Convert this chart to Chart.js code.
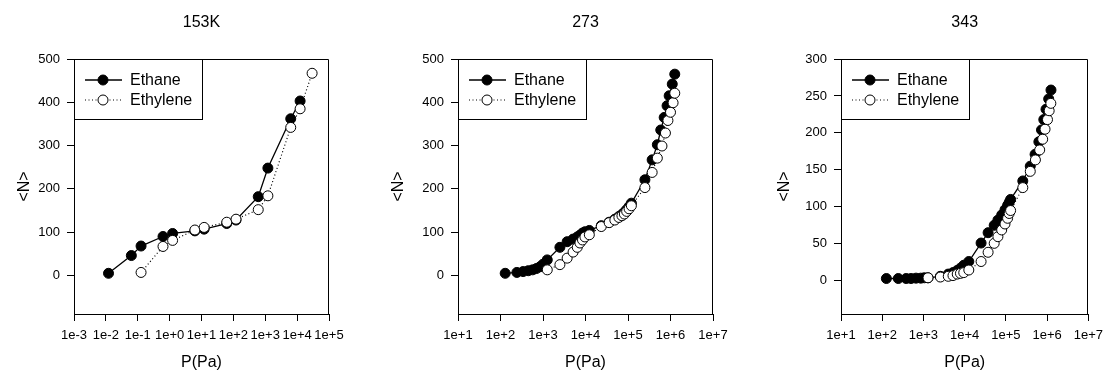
<!DOCTYPE html>
<html>
<head>
<meta charset="utf-8">
<script src="https://cdn.jsdelivr.net/npm/chart.js@4"></script>
<style>
html,body{margin:0;padding:0;background:#fff;}
body{width:1110px;height:372px;position:relative;overflow:hidden;}
.panel{position:absolute;top:0;width:370px;height:372px;}
</style>
</head>
<body>
<div class="panel" style="left:0px"><canvas id="c1"></canvas></div>
<div class="panel" style="left:370px"><canvas id="c2"></canvas></div>
<div class="panel" style="left:740px"><canvas id="c3"></canvas></div>
<script>
// ---------- DATA ----------
const panelTitles = ['153K', '273', '343'];
const seriesNames = ['Ethane', 'Ethylene'];

// 153K
const t153_ethane_P = [0.0121, 0.063, 0.127, 0.62, 1.24, 6.2, 12.1, 62, 121, 603, 1210, 6300, 12400];
const t153_ethane_N = [5, 46, 68, 90, 97, 103, 107, 120, 128, 182, 248, 362, 403];
const t153_ethylene_P = [0.127, 0.62, 1.24, 6.2, 12.1, 62, 121, 603, 1210, 6300, 12400, 29500];
const t153_ethylene_N = [7, 67, 81, 105, 111, 123, 130, 152, 184, 342, 385, 467];

// 273
const t273_ethane_P = [129, 243, 340, 450, 570, 700, 850, 1000, 1260, 2500, 3700, 5100, 6400, 7400, 8500, 9700, 12300,
  23500, 36000, 49000, 61000, 72000, 82000, 93000, 106000, 120000,
  250000, 370000, 490000, 590000, 710000, 830000, 930000, 1100000, 1260000];
const t273_ethane_N = [5, 7, 9, 11, 13, 16, 20, 26, 36, 65, 78, 84, 89, 93, 98, 101, 104,
  115, 123, 130, 136, 141, 146, 152, 159, 167,
  221, 267, 302, 336, 365, 392, 415, 442, 465];
const t273_ethylene_P = [1260, 2500, 3700, 5100, 6400, 7400, 8500, 9700, 12300,
  23500, 36000, 49000, 61000, 72000, 82000, 93000, 106000, 120000,
  250000, 370000, 490000, 630000, 760000, 870000, 1000000, 1150000, 1260000];
const t273_ethylene_N = [13, 25, 40, 54, 65, 75, 82, 89, 94,
  113, 122, 128, 134, 138, 142, 148, 154, 161,
  203, 238, 271, 299, 329, 358, 377, 399, 421];

// 343
const t343_ethane_P = [126, 245, 380, 500, 660, 860, 1050, 1290, 2570, 4000, 5200, 6600, 7900, 9500, 12600,
  25000, 37000, 52000, 64000, 79000, 95000, 110000, 120000, 130000,
  257000, 390000, 510000, 630000, 730000, 830000, 940000, 1090000, 1240000];
const t343_ethane_N = [3, 3, 3, 3, 3.5, 3.5, 4, 4, 6, 9, 11, 14, 17, 21, 26,
  51, 65, 75, 82, 89, 96, 102, 106, 110,
  135, 155, 171, 188, 204, 218, 232, 246, 258];
const t343_ethylene_P = [1290, 2570, 4000, 5200, 6600, 7900, 9500, 12600,
  25000, 37000, 52000, 64000, 79000, 95000, 110000, 120000, 130000,
  257000, 390000, 520000, 660000, 780000, 890000, 1020000, 1120000, 1230000];
const t343_ethylene_N = [4, 5, 6, 7, 9, 10, 11, 14.5,
  26, 38.5, 50.6, 59.6, 68.7, 76.8, 84.5, 91, 95,
  126, 148, 163.5, 177, 191.5, 205, 218, 230, 240];

// Axis ticks
const x153_tickValues = [1e-3, 1e-2, 1e-1, 1e0, 1e1, 1e2, 1e3, 1e4, 1e5];
const x153_tickLabels = ['1e-3', '1e-2', '1e-1', '1e+0', '1e+1', '1e+2', '1e+3', '1e+4', '1e+5'];
const xHigh_tickValues = [1e1, 1e2, 1e3, 1e4, 1e5, 1e6, 1e7];
const xHigh_tickLabels = ['1e+1', '1e+2', '1e+3', '1e+4', '1e+5', '1e+6', '1e+7'];
const y500_ticks = [0, 100, 200, 300, 400, 500];
const y300_ticks = [0, 50, 100, 150, 200, 250, 300];
const xTitle = 'P(Pa)';
const yTitle = '<N>';

// ---------- RENDERING ----------
const FONT = "'Liberation Sans', Arial, Helvetica, sans-serif";

function pts(P, N) { return P.map((p, i) => ({ x: p, y: N[i] })); }

const frameLegendPlugin = {
  id: 'frameLegend',
  afterDatasetsDraw(chart) {
    const ctx = chart.ctx, a = chart.chartArea;
    ctx.save();
    ctx.strokeStyle = '#000';
    ctx.lineWidth = 1;
    ctx.setLineDash([]);
    ctx.beginPath();
    ctx.moveTo(Math.round(a.left), Math.round(a.top) + 0.5);
    ctx.lineTo(Math.round(a.right) - 0.5, Math.round(a.top) + 0.5);
    ctx.lineTo(Math.round(a.right) - 0.5, Math.round(a.bottom));
    ctx.stroke();
    const L = Math.round(a.left), T = Math.round(a.top);
    ctx.fillStyle = '#fff';
    ctx.fillRect(L + 0.5, T + 0.5, 128, 60);
    ctx.strokeStyle = '#000';
    ctx.strokeRect(L + 0.5, T + 0.5, 128, 60);
    chart.data.datasets.forEach((ds, i) => {
      const y = T + 21 + i * 20;
      ctx.beginPath();
      ctx.setLineDash(ds.borderDash || []);
      ctx.lineWidth = ds.borderWidth;
      ctx.strokeStyle = ds.borderColor;
      ctx.moveTo(L + 11, y);
      ctx.lineTo(L + 48, y);
      ctx.stroke();
      ctx.setLineDash([]);
      ctx.beginPath();
      ctx.arc(L + 29, y, ds.pointRadius, 0, Math.PI * 2);
      ctx.fillStyle = ds.pointBackgroundColor;
      ctx.fill();
      ctx.lineWidth = ds.pointBorderWidth;
      ctx.strokeStyle = ds.pointBorderColor;
      ctx.stroke();
      ctx.fillStyle = '#000';
      ctx.font = '16px ' + FONT;
      ctx.textBaseline = 'middle';
      ctx.textAlign = 'left';
      ctx.fillText(ds.label, L + 56, y + 1);
    });
    ctx.restore();
  }
};

function makePanel(id, cfg) {
  const datasets = [
    {
      label: seriesNames[0],
      data: pts(cfg.eP, cfg.eN),
      borderColor: '#000',
      borderWidth: 1.3,
      backgroundColor: '#000',
      pointBackgroundColor: '#000',
      pointBorderColor: '#000',
      pointBorderWidth: 1,
      pointRadius: 5,
      order: 1
    },
    {
      label: seriesNames[1],
      data: pts(cfg.yP, cfg.yN),
      borderColor: '#000',
      borderWidth: 1.2,
      borderDash: [1, 2.5],
      backgroundColor: '#fff',
      pointBackgroundColor: '#fff',
      pointBorderColor: '#000',
      pointBorderWidth: 1,
      pointRadius: 5,
      order: 0
    }
  ];
  return new Chart(document.getElementById(id), {
    type: 'line',
    data: { datasets },
    options: {
      responsive: true,
      maintainAspectRatio: false,
      animation: false,
      devicePixelRatio: 1,
      layout: { padding: { left: cfg.padLeft, right: cfg.padRight, top: 0, bottom: 0 } },
      plugins: {
        legend: { display: false },
        tooltip: { enabled: false },
        title: {
          display: true,
          text: cfg.title,
          fullSize: false,
          color: '#000',
          font: { family: FONT, size: 16, weight: 'normal' },
          padding: { top: 13, bottom: 26.8 }
        }
      },
      scales: {
        x: {
          type: 'logarithmic',
          position: 'bottom',
          min: cfg.xMin,
          max: cfg.xMax,
          afterBuildTicks: (s) => { s.ticks = cfg.xTicks.map(v => ({ value: v })); },
          afterFit: (s) => { s.height = 58; },
          ticks: {
            autoSkip: false,
            maxRotation: 0,
            minRotation: 0,
            padding: 7,
            color: '#000',
            font: { family: FONT, size: 13 },
            callback: (v, i) => cfg.xLabels[i]
          },
          grid: { display: true, drawOnChartArea: false, drawTicks: true, tickLength: 7, color: '#000', lineWidth: 1 },
          border: { display: true, color: '#000', width: 1 },
          title: {
            display: true,
            text: xTitle,
            color: '#000',
            font: { family: FONT, size: 16 },
            padding: { top: 0, bottom: 0 }
          }
        },
        y: {
          type: 'linear',
          position: 'left',
          min: cfg.yMin,
          max: cfg.yMax,
          afterBuildTicks: (s) => { s.ticks = cfg.yTicks.map(v => ({ value: v })); },
          afterFit: (s) => { s.width = cfg.yWidth; },
          ticks: {
            padding: 7,
            color: '#000',
            font: { family: FONT, size: 13 }
          },
          grid: { display: true, drawOnChartArea: false, drawTicks: true, tickLength: 7, color: '#000', lineWidth: 1 },
          border: { display: true, color: '#000', width: 1 },
          title: {
            display: true,
            text: yTitle,
            color: '#000',
            font: { family: FONT, size: 16 },
            padding: { top: 3, bottom: 0 }
          }
        }
      }
    },
    plugins: [frameLegendPlugin]
  });
}

makePanel('c1', {
  title: panelTitles[0],
  eP: t153_ethane_P, eN: t153_ethane_N, yP: t153_ethylene_P, yN: t153_ethylene_N,
  xMin: 1e-3, xMax: 1e5, xTicks: x153_tickValues, xLabels: x153_tickLabels,
  yMin: -89, yMax: 500, yTicks: y500_ticks,
  padLeft: 12, yWidth: 62, padRight: 41
});
makePanel('c2', {
  title: panelTitles[1],
  eP: t273_ethane_P, eN: t273_ethane_N, yP: t273_ethylene_P, yN: t273_ethylene_N,
  xMin: 1e1, xMax: 1e7, xTicks: xHigh_tickValues, xLabels: xHigh_tickLabels,
  yMin: -89, yMax: 500, yTicks: y500_ticks,
  padLeft: 16, yWidth: 72, padRight: 27
});
makePanel('c3', {
  title: panelTitles[2],
  eP: t343_ethane_P, eN: t343_ethane_N, yP: t343_ethylene_P, yN: t343_ethylene_N,
  xMin: 1e1, xMax: 1e7, xTicks: xHigh_tickValues, xLabels: xHigh_tickLabels,
  yMin: -45, yMax: 300, yTicks: y300_ticks,
  padLeft: 32, yWidth: 69, padRight: 14
});
</script>
</body>
</html>
